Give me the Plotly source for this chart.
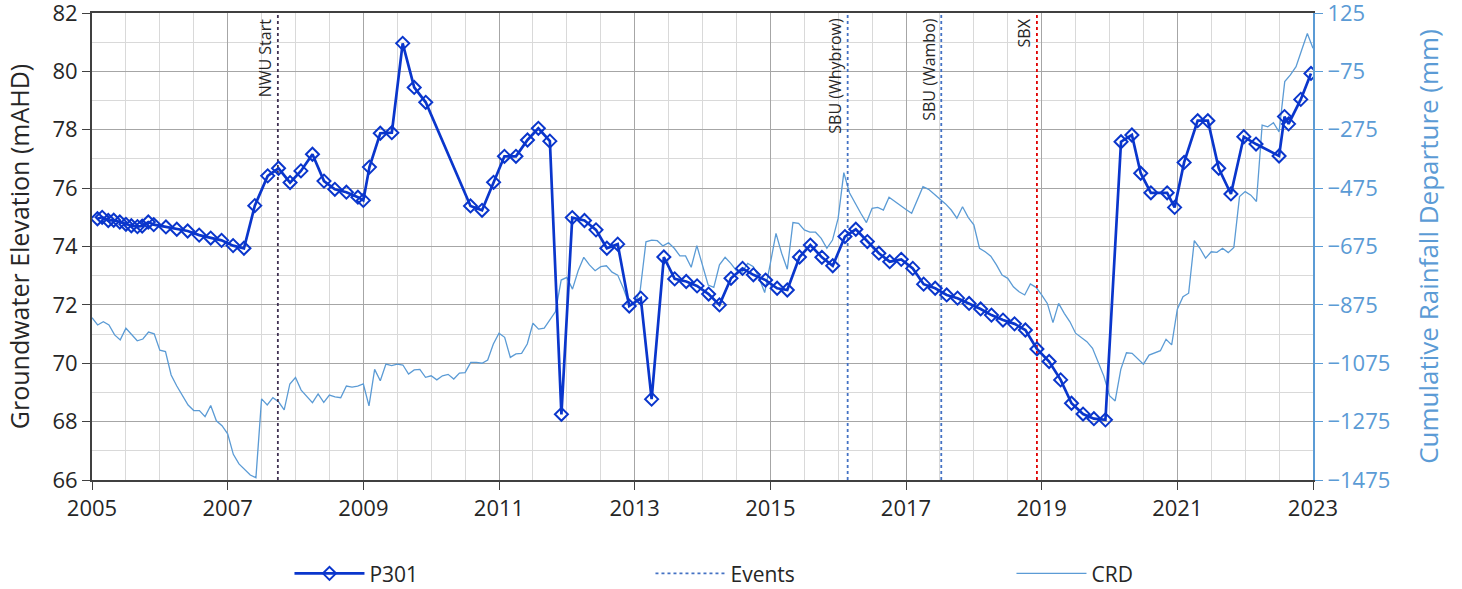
import plotly.graph_objects as go

# ---------------- data ----------------
p301_year = [2005.08, 2005.15, 2005.24, 2005.32, 2005.41, 2005.50, 2005.58, 2005.67, 2005.74, 2005.83, 2005.91,
             2006.09, 2006.25, 2006.41, 2006.58, 2006.75, 2006.91,
             2007.08, 2007.24, 2007.40, 2007.59, 2007.75, 2007.92,
             2008.08, 2008.25, 2008.42, 2008.58, 2008.75, 2008.92,
             2009.00, 2009.09, 2009.25, 2009.42, 2009.58, 2009.75, 2009.92,
             2010.58, 2010.75, 2010.92,
             2011.08, 2011.25, 2011.42, 2011.58, 2011.75, 2011.92,
             2012.08, 2012.26, 2012.43, 2012.59, 2012.75, 2012.92,
             2013.09, 2013.25, 2013.43, 2013.59, 2013.76, 2013.92,
             2014.09, 2014.25, 2014.42, 2014.59, 2014.75, 2014.93,
             2015.10, 2015.25, 2015.43, 2015.59, 2015.76, 2015.92,
             2016.10, 2016.26, 2016.43, 2016.60, 2016.76, 2016.93,
             2017.10, 2017.26, 2017.43, 2017.60, 2017.76, 2017.93,
             2018.10, 2018.26, 2018.43, 2018.60, 2018.76, 2018.93,
             2019.11, 2019.28, 2019.44, 2019.61, 2019.77, 2019.94,
             2020.17, 2020.33, 2020.46, 2020.61, 2020.85, 2020.96,
             2021.10, 2021.30, 2021.45, 2021.61, 2021.79, 2021.98,
             2022.16, 2022.50, 2022.58, 2022.64, 2022.82, 2022.97]
p301_level = [74.95, 75.00, 74.89, 74.90, 74.84, 74.76, 74.71, 74.68, 74.70, 74.84, 74.75,
              74.67, 74.59, 74.53, 74.39, 74.29, 74.21,
              74.03, 73.94, 75.40, 76.42, 76.68, 76.19,
              76.59, 77.16, 76.24, 75.96, 75.86, 75.69,
              75.58, 76.72, 77.88, 77.90, 80.96, 79.45, 78.94,
              75.39, 75.24, 76.20,
              77.09, 77.09, 77.65, 78.05, 77.61, 68.25,
              74.99, 74.89, 74.57, 73.94, 74.08, 71.96,
              72.23, 68.77, 73.64, 72.89, 72.80, 72.65,
              72.37, 72.00, 72.91, 73.25, 73.03, 72.85,
              72.57, 72.51, 73.64, 74.05, 73.63, 73.34,
              74.34, 74.59, 74.17, 73.77, 73.48, 73.56,
              73.25, 72.71, 72.57, 72.34, 72.23, 72.05,
              71.86, 71.65, 71.48, 71.35, 71.14, 70.49,
              70.06, 69.43, 68.63, 68.26, 68.10, 68.06,
              77.59, 77.82, 76.51, 75.84, 75.84, 75.34,
              76.88, 78.31, 78.31, 76.68, 75.80, 77.76,
              77.51, 77.10, 78.45, 78.20, 79.04, 79.93]

# Cumulative rainfall departure, monthly from Jan 2005 (mm)
crd_start_year = 2005
crd_mm = [-919, -944, -933, -944, -978, -995, -955, -975, -998, -992, -968, -974,
          -1030, -1035, -1115, -1153, -1187, -1218, -1237, -1237, -1258, -1220, -1272, -1289,
          -1317, -1387, -1420, -1438, -1458, -1467, -1197, -1218, -1193, -1207, -1235, -1146,
          -1124, -1167, -1190, -1210, -1180, -1209, -1184, -1190, -1193, -1153, -1157, -1153,
          -1146, -1221, -1096, -1135, -1078, -1083, -1078, -1081, -1112, -1098, -1096, -1123,
          -1118, -1132, -1118, -1113, -1129, -1109, -1107, -1072, -1072, -1075, -1064, -1009,
          -972, -986, -1055, -1043, -1041, -1009, -938, -958, -955, -927, -898, -790,
          -781, -821, -758, -712, -738, -758, -744, -741, -763, -773, -818, -872,
          -875, -822, -659, -653, -655, -673, -662, -681, -707, -707, -746, -672,
          -736, -807, -815, -738, -712, -733, -758, -763, -733, -744, -781, -833,
          -733, -630, -698, -753, -593, -596, -618, -626, -626, -647, -681, -653,
          -578, -422, -491, -527, -561, -593, -544, -541, -550, -506, -521, -533,
          -548, -561, -516, -470, -479, -495, -512, -529, -550, -578, -539, -575,
          -601, -681, -693, -708, -738, -773, -784, -813, -830, -841, -803, -815,
          -841, -870, -936, -870, -904, -933, -972, -987, -1001, -1024, -1075, -1119,
          -1186, -1204, -1096, -1039, -1041, -1061, -1078, -1047, -1039, -1032, -993, -1012,
          -890, -847, -835, -655, -681, -715, -693, -695, -681, -696, -678, -504,
          -487, -499, -521, -259, -265, -251, -282, -110, -87, -59, -2, 55,
          4]
crd_year = [crd_start_year + i / 12 for i in range(len(crd_mm))]

event_names = ["NWU Start", "SBU (Whybrow)", "SBU (Wambo)", "SBX"]
event_year = [2007.74, 2016.14, 2017.52, 2018.93]
event_color = ["#403152", "#4472c4", "#4472c4", "#e00000"]

left_ticks = [66, 68, 70, 72, 74, 76, 78, 80, 82]
right_ticks = [-1475, -1275, -1075, -875, -675, -475, -275, -75, 125]

# ---------------- styles ----------------
BLUE = "#0a36cc"
CRD_BLUE = "#5b9bd5"
FONT = "Open Sans"
TXT = "#262626"

fig = go.Figure()

# CRD on primary (bottom layer) axis, shown on right
fig.add_trace(go.Scatter(
    x=crd_year, y=crd_mm, name="CRD", mode="lines",
    line=dict(color=CRD_BLUE, width=1.3), yaxis="y", legendrank=3))

# Events on overlay axis
for i, (nm, yr, col) in enumerate(zip(event_names, event_year, event_color)):
    fig.add_trace(go.Scatter(
        x=[yr, yr], y=[left_ticks[0], left_ticks[-1]], mode="lines",
        name="Events", legendgroup="events", showlegend=(i == 1),
        line=dict(color=col, width=1.8, dash="dot"), yaxis="y2",
        hoverinfo="skip", legendrank=2))
    fig.add_annotation(x=yr, xref="x", y=1, yref="paper", yshift=-3,
                       text=nm, textangle=-90, showarrow=False,
                       xanchor="right", yanchor="top", xshift=0,
                       font=dict(family=FONT, size=16, color=TXT))

fig.add_trace(go.Scatter(
    x=p301_year, y=p301_level, name="P301", mode="lines+markers",
    line=dict(color=BLUE, width=2.7),
    marker=dict(symbol="diamond-open", size=10, color=BLUE, line=dict(width=2, color=BLUE)),
    yaxis="y2", legendrank=1))

fig.update_layout(
    width=1462, height=589,
    margin=dict(l=92, r=149, t=13, b=109, autoexpand=False),
    paper_bgcolor="white", plot_bgcolor="white",
    font=dict(family=FONT, size=22, color=TXT),
    showlegend=True,
    legend=dict(orientation="h", xref="container", x=0.198, xanchor="left",
                yref="container", y=0.026, yanchor="middle",
                entrywidth=276, entrywidthmode="pixels", itemwidth=70,
                font=dict(family=FONT, size=21, color=TXT), traceorder="normal"),
    xaxis=dict(range=[2005, 2023], tickmode="linear", tick0=2005, dtick=2,
               showgrid=True, gridcolor="#a6a6a6", gridwidth=1,
               minor=dict(dtick=0.5, showgrid=True, gridcolor="#d9d9d9", gridwidth=1),
               showline=True, linecolor="#404040", linewidth=2, mirror=True,
               ticks="outside", ticklen=8, tickcolor="#404040", tickwidth=1,
               tickfont=dict(family=FONT, size=22, color=TXT), zeroline=False,
               automargin=False, ticklabeloverflow="allow"),
    yaxis=dict(range=[-1475, 125], tickmode="array", tickvals=right_ticks,
               side="right", showgrid=True, gridcolor="#a6a6a6", gridwidth=1,
               minor=dict(dtick=100, tick0=-1475, showgrid=True, gridcolor="#d9d9d9", gridwidth=1),
               showline=True, linecolor=CRD_BLUE, linewidth=2,
               ticks="outside", ticklen=8, tickcolor=CRD_BLUE,
               tickfont=dict(family=FONT, size=22, color=CRD_BLUE),
               title=dict(text="Cumulative Rainfall Departure (mm)",
                          font=dict(family=FONT, size=26, color=CRD_BLUE), standoff=30),
               zeroline=False, automargin=False, ticklabeloverflow="allow"),
    yaxis2=dict(range=[66, 82], tickmode="array", tickvals=left_ticks,
                overlaying="y", side="left", showgrid=False,
                showline=True, linecolor="#404040", linewidth=2,
                ticks="outside", ticklen=8, tickcolor="#404040",
                tickfont=dict(family=FONT, size=22, color=TXT),
                title=dict(text="Groundwater Elevation (mAHD)",
                           font=dict(family=FONT, size=25, color=TXT), standoff=16),
                zeroline=False, automargin=False, ticklabeloverflow="allow"),
)

fig.write_html("out.html", config={"displayModeBar": False},
               post_script="document.body.style.margin='0';")
